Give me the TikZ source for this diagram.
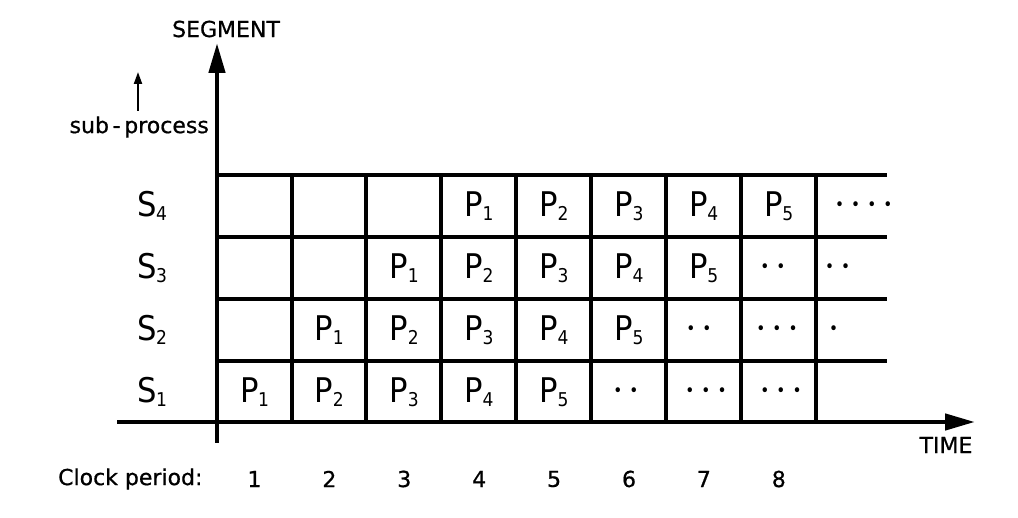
\documentclass[tikz,border=0pt]{standalone}
\usepackage{fontspec}
\setmainfont{DejaVu Sans Condensed}
\newfontfamily\lblfont[FakeBold=0.7]{DejaVu Sans}
\usetikzlibrary{arrows.meta}

\newcommand{\ix}[2]{#1\kern-0.5pt\raisebox{-4pt}{\fontsize{19}{19}\selectfont #2}}
\newcommand{\dts}[1]{\foreach \k in {1,...,#1}{\ifnum\k>1\kern7pt\fi•}}

\tikzset{
	grid/.style={line width=3.6pt},
	axis/.style={line width=4.6pt, -{Triangle[length=30pt, width=16pt]}},
	lbl/.style={font=\fontsize{34}{34}\selectfont, inner sep=0pt},
	cell/.style={font=\fontsize{34}{34}\selectfont, inner sep=0pt},
	pnt/.style={font=\fontsize{17}{17}\selectfont, inner sep=0pt},
	txtlbl/.style={font=\lblfont\fontsize{22}{22}\selectfont, inner sep=0pt}
}

\begin{document}
\begin{tikzpicture}[x=1pt, y=-1pt]
	\useasboundingbox (0,0) rectangle (1018,518);
	
	% raster
	\foreach \y in {175,237,299,361}
		\draw[grid] (217,\y) -- (887,\y);
	\foreach \x in {292,366,441,516,591,666,741,816}
		\draw[grid] (\x,175) -- (\x,422);
	
	% axes
	\coordinate (xstart) at (117,422);
	\coordinate (xend) at (975,422);
	\coordinate (ystart) at (217,443);
	\coordinate (yend) at (217,43);
	\draw[axis] (xstart) -- (xend);
	\draw[axis] (ystart) -- (yend);
	
	\node[txtlbl] (segment) at (226,29) {SEGMENT};
	\node[txtlbl] (time) at (946,445) {TIME};
	\node[txtlbl, anchor=east] (subproc) at (209,127) {sub\,-\,process};
	\coordinate (subtip) at (138,72);
	\draw[line width=2pt, -{Triangle[length=12pt, width=8pt]}] (138,111) -- (subtip);
	
	% segment labels
	\foreach \r/\y in {1/392,2/330,3/268,4/206}
		\node[lbl] (s\r) at (152,\y) {\ix{S}{\r}};
	
	% sub-processes P_i in each cell
	\foreach \r/\c/\i in {1/1/1,1/2/2,1/3/3,1/4/4,1/5/5,
			2/2/1,2/3/2,2/4/3,2/5/4,2/6/5,
			3/3/1,3/4/2,3/5/3,3/6/4,3/7/5,
			4/4/1,4/5/2,4/6/3,4/7/4,4/8/5}
		\node[cell] (p\r\c) at ({254.5+74.9*(\c-1)},{392-62*(\r-1)}) {\ix{P}{\i}};
	
	% continuation dots
	\node[pnt] (d16) at (626,392) {\dts{2}};
	\node[pnt] (d17) at (706,392) {\dts{3}};
	\node[pnt] (d18) at (781,392) {\dts{3}};
	\node[pnt] (d27) at (699,330) {\dts{2}};
	\node[pnt] (d28) at (777,330) {\dts{3}};
	\node[pnt, anchor=west] (d29) at (829,330) {\dts{1}};
	\node[pnt] (d38) at (773,268) {\dts{2}};
	\node[pnt, anchor=west] (d39) at (825,268) {\dts{2}};
	\node[pnt, anchor=west] (d49) at (835,206) {\dts{4}};
	
	% clock periods
	\node[txtlbl, anchor=west] (clock) at (58,479) {Clock period:};
	\foreach \c in {1,...,8}
		\node[txtlbl] (t\c) at ({254.5+74.9*(\c-1)},479) {\c};
\end{tikzpicture}
\end{document}
